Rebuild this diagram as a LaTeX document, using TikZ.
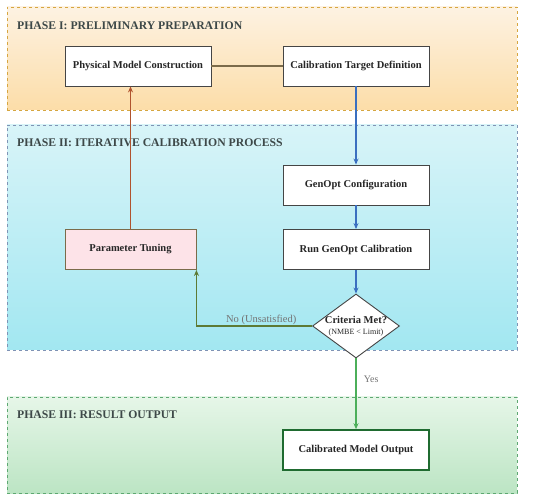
\documentclass[tikz,border=0pt]{standalone}
\usepackage{fontspec}
\setmainfont{Liberation Serif}
\usepackage{xcolor}
\usepackage{tikz}
\usetikzlibrary{arrows.meta,positioning,shapes.geometric}
\definecolor{boxline}{HTML}{454545}
\definecolor{titletext}{HTML}{3D4848}
\definecolor{oneline}{HTML}{D6A640}
\definecolor{onetop}{HTML}{FDF2E2}
\definecolor{onebot}{HTML}{FCDDA8}
\definecolor{twoline}{HTML}{7F93B5}
\definecolor{twotop}{HTML}{D8F4F8}
\definecolor{twobot}{HTML}{A2E7F1}
\definecolor{threeline}{HTML}{5EA872}
\definecolor{threetop}{HTML}{E6F6E8}
\definecolor{threebot}{HTML}{BCE5C4}
\definecolor{flowblue}{HTML}{3A6FC0}
\definecolor{flowred}{HTML}{B0532E}
\definecolor{flowolive}{HTML}{5D7A35}
\definecolor{flowgreen}{HTML}{4CAF5A}
\definecolor{tunefill}{HTML}{FDE3E8}
\definecolor{tuneline}{HTML}{7B6B4A}
\definecolor{outline}{HTML}{1F6B30}
\tikzset{
  cphase/.style={dashed,line width=0.8pt,minimum width=510pt,inner sep=0pt},
  ctitle/.style={anchor=north west,font=\fontsize{11.7}{13}\selectfont\bfseries,text=titletext,inner sep=0pt},
  cbox/.style={draw=boxline,fill=white,line width=0.9pt,minimum width=146pt,minimum height=40pt,
    font=\fontsize{10.5}{12}\selectfont\bfseries,text=black!85,align=flush center,inner sep=2pt},
  cdec/.style={diamond,draw=boxline,fill=white,line width=0.9pt,minimum width=87pt,minimum height=64pt,
    inner sep=0pt,align=flush center,text=black!85},
  carr/.style={-{Stealth[length=6pt,width=5pt]},line width=1.1pt},
  cline/.style={line width=1.1pt}
}

\begin{document}
\begin{tikzpicture}[x=1pt,y=-1pt]
  \useasboundingbox (0,0) rectangle (550,500);
  % phase frames
  \node[cphase,draw=oneline,top color=onetop,bottom color=onebot,minimum height=103pt] (phone) at (262,58.5) {};
  \node[cphase,draw=twoline,top color=twotop,bottom color=twobot,minimum height=225pt] (phtwo) at (262,237.5) {};
  \node[cphase,draw=threeline,top color=threetop,bottom color=threebot,minimum height=96pt] (phthree) at (262,445) {};
  \node[ctitle] (tone) at (17,22) {PHASE I: PRELIMINARY PREPARATION};
  \node[ctitle] (ttwo) at (17,139) {PHASE II: ITERATIVE CALIBRATION PROCESS};
  \node[ctitle] (tthree) at (17,411) {PHASE III: RESULT OUTPUT};
  % steps
  \node[cbox] (phys) at (138,66) {Physical Model Construction};
  \node[cbox] (calt) at (356,66) {Calibration Target Definition};
  \node[cbox] (gcfg) at (356,185) {GenOpt Configuration};
  \node[cbox] (rung) at (356,249.5) {Run GenOpt Calibration};
  \node[cbox,fill=tunefill,draw=tuneline,minimum width=131pt] (tune) at (130.5,249.5) {Parameter Tuning};
  \node[cdec] (crit) at (356,326) {\makebox[0pt]{\fontsize{10.5}{12}\selectfont\bfseries Criteria Met?}\\[-1pt]
    \makebox[0pt]{\fontsize{8}{9}\selectfont (NMBE < Limit)}};
  \node[cbox,draw=outline,line width=1.6pt] (cout) at (356,450) {Calibrated Model Output};
  % connectors
  \draw[cline,draw=tuneline] (phys) -- (calt);
  \draw[carr,draw=flowblue] (calt) -- (gcfg);
  \draw[carr,draw=flowblue] (gcfg) -- (rung);
  \draw[carr,draw=flowblue] (rung) -- (crit);
  \draw[carr,draw=flowolive] (crit.west) -| (tune.south east)
    node[pos=0.22,above=-3pt,font=\fontsize{10.5}{12}\selectfont,text=gray!90!black] {No (Unsatisfied)};
  \draw[carr,draw=flowred] (tune.north) -- (tune.north |- phys.south);
  \draw[carr,draw=flowgreen] (crit.south) -- (cout.north)
    node[pos=0.3,right=4pt,font=\fontsize{10}{11}\selectfont,text=gray!90!black] {Yes};
\end{tikzpicture}
\end{document}
